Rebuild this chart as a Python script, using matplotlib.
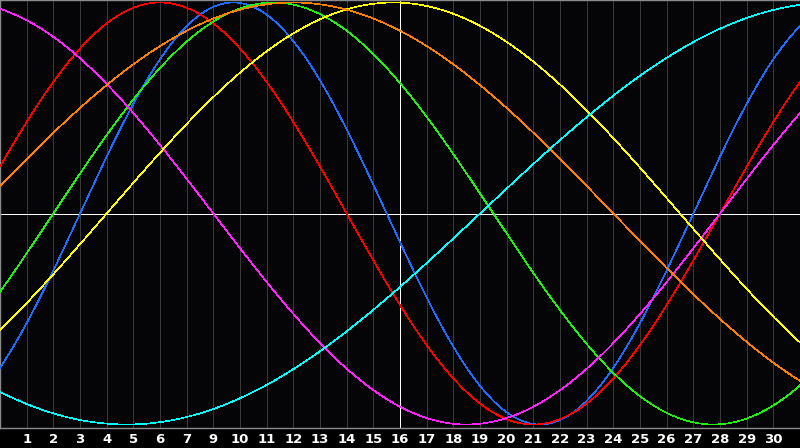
import numpy as np
import matplotlib
matplotlib.use("Agg")
import matplotlib.pyplot as plt

# Biorhythm chart data
# days lived at the left edge of the chart
DAYS_LIVED_AT_START = 16465
# cycle names, lengths in days and colours
CYCLES = ["Physical", "Emotional", "Intellectual", "Intuitive",
          "Aesthetic", "Awareness", "Spiritual"]
PERIODS = [23, 28, 33, 38, 43, 48, 53]
COLORS = ["#1e6cff", "#ff0000", "#22ee11", "#ff22ff",
          "#ffff00", "#ff8000", "#00ffff"]
# day-of-month labels under the grid lines (8 is absent in the original)
DAY_LABELS = [1, 2, 3, 4, 5, 6, 7, 9, 10, 11, 12, 13, 14, 15, 16, 17, 18,
              19, 20, 21, 22, 23, 24, 25, 26, 27, 28, 29, 30]
N_DAYS = 30
TODAY_INDEX = 15

W, H = 800, 448
PLOT_H = 428
fig = plt.figure(figsize=(W / 100, H / 100), dpi=100, facecolor="black")
ax = fig.add_axes([0, (H - PLOT_H) / H, 1, PLOT_H / H])
ax.set_facecolor("#050508")

amp = 211.0
center = 213.5
ax.set_xlim(0, N_DAYS)
ax.set_ylim(-(PLOT_H - center) / amp, center / amp)

# grid lines
ax.set_xticks(range(1, len(DAY_LABELS) + 1))
ax.set_xticklabels([str(d) for d in DAY_LABELS])
ax.grid(axis="x", color="#383838", lw=0.7, antialiased=False)
ax.set_yticks([])
ax.tick_params(axis="x", length=0, pad=3.5, colors="white")
for lab in ax.get_xticklabels():
    lab.set_fontweight("bold")
    lab.set_fontsize(9.5)
    lab.set_fontfamily("DejaVu Sans")

# today / zero lines
ax.axvline(TODAY_INDEX, color="white", lw=0.7, antialiased=False, zorder=2)
ax.axhline(0, color="white", lw=0.7, antialiased=False, zorder=2)

days = np.linspace(0, N_DAYS, 1601)
t = DAYS_LIVED_AT_START + days
for name, p, c in zip(CYCLES, PERIODS, COLORS):
    ax.plot(days, np.sin(2 * np.pi * t / p), color=c, lw=0.45,
            antialiased=False, zorder=3, label=name)

for side in ["left", "top", "bottom"]:
    ax.spines[side].set_color("#8a8a8a")
    ax.spines[side].set_linewidth(1.0)
ax.spines["right"].set_visible(False)

fig.savefig("out.png", dpi=100, facecolor="black")
